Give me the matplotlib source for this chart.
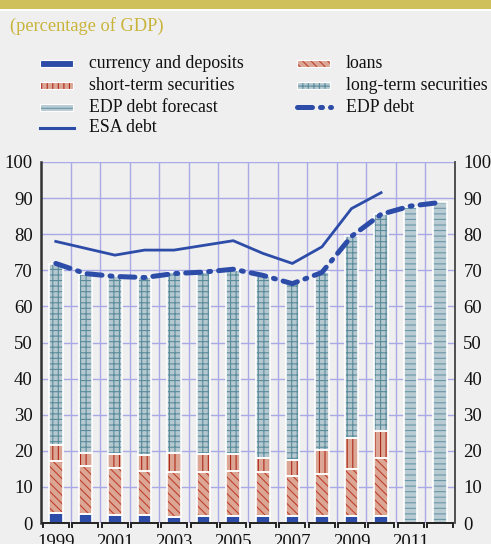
import numpy as np
import matplotlib
matplotlib.use("Agg")
import matplotlib.pyplot as plt
from matplotlib.patches import Rectangle
import matplotlib.transforms as mtransforms

# ---------------- data ----------------
years = [1999, 2000, 2001, 2002, 2003, 2004, 2005, 2006, 2007, 2008, 2009, 2010, 2011, 2012]
currency = [2.7, 2.4, 2.3, 2.3, 1.7, 2.0, 2.0, 2.0, 2.0, 2.0, 2.0, 2.0, np.nan, np.nan]
loans = [14.5, 13.3, 12.9, 12.1, 12.4, 12.2, 12.5, 12.1, 11.0, 11.5, 12.9, 15.9, np.nan, np.nan]
short_term = [4.4, 3.8, 3.9, 4.4, 5.3, 4.9, 4.6, 4.0, 4.5, 6.7, 8.7, 7.6, np.nan, np.nan]
long_term = [50.1, 49.6, 49.2, 49.3, 50.1, 50.4, 51.1, 50.2, 49.3, 49.2, 55.8, 60.2, np.nan, np.nan]
edp_forecast = [np.nan] * 12 + [87.6, 88.8]
edp_debt = [71.9, 69.1, 68.3, 68.0, 69.1, 69.5, 70.3, 68.6, 66.3, 69.4, 79.4, 85.5, 87.8, 88.8]
esa_debt = [78.0, 76.1, 74.2, 75.6, 75.6, 76.9, 78.2, 74.7, 71.9, 76.5, 87.1, 91.5, np.nan, np.nan]
year_labels = ["1999", "2001", "2003", "2005", "2007", "2009", "2011"]
yticks = [0, 10, 20, 30, 40, 50, 60, 70, 80, 90, 100]

# ---------------- style ----------------
BG = "#efefef"
GRID = "#a9a9e6"
BLUE = "#2c4ca8"
SALMON = "#dba694"
RED = "#c0402e"
STEEL = "#b5c8d0"
TEAL = "#5b8c9c"
OLIVE = "#c9b43a"
SERIF = ["Liberation Serif", "DejaVu Serif"]

plt.rcParams["font.family"] = SERIF
plt.rcParams["hatch.linewidth"] = 0.8

W, H = 491, 544
fig = plt.figure(figsize=(W / 100, H / 100), dpi=100, facecolor=BG)

# banner / title overlay
ov = fig.add_axes([0, 0, 1, 1], zorder=-5)
ov.set_xlim(0, W)
ov.set_ylim(H, 0)
ov.axis("off")
ov.add_patch(Rectangle((0, 0), W, 8.5, color="#cfc05c", lw=0))
ov.add_patch(Rectangle((0, 8.5), W, 2, color="white", lw=0))
ov.text(10, 26, "(percentage of GDP)", color=OLIVE, fontsize=13.2, va="center", ha="left")

x = np.arange(len(years))
bw = 0.46

ax = fig.add_axes([41 / W, (H - 523) / H, 414 / W, 361 / H])
ax.set_facecolor(BG)
ax.set_xlim(-0.5, len(years) - 0.5)
ax.set_ylim(0, 100)

# grid
for b in np.arange(-0.5, len(years), 1.0):
    ax.axvline(b, color=GRID, lw=1.0, zorder=0)
for yv in yticks[1:]:
    ax.axhline(yv, color=GRID, lw=1.0, zorder=0)

cur = np.array(currency, float)
lo = np.array(loans, float)
st = np.array(short_term, float)
lt = np.array(long_term, float)
fc = np.array(edp_forecast, float)


def hbar(vals, bottom, face, hatch, hcolor):
    ax.bar(x, vals, bw, bottom=bottom, color=face, hatch=hatch, edgecolor=hcolor,
           linewidth=0, zorder=2)
    ax.bar(x, vals, bw, bottom=bottom, fill=False, edgecolor="white", linewidth=1.2, zorder=3)


b0 = np.zeros(len(years))
hbar(cur, b0, BLUE, None, BLUE)
b1 = b0 + np.nan_to_num(cur)
hbar(lo, b1, SALMON, "\\\\\\\\", RED)
b2 = b1 + np.nan_to_num(lo)
hbar(st, b2, SALMON, "|||", "#b02a1c")
b3 = b2 + np.nan_to_num(st)
hbar(lt, b3, STEEL, "+++", TEAL)
hbar(fc, b0, "#b8cad2", "---", "#6a98a8")

ax.plot(x, esa_debt, color=BLUE, lw=2.0, zorder=5, solid_joinstyle="miter")
ax.plot(x, edp_debt, color=BLUE, lw=3.6, zorder=6, dashes=(3.0, 1.6, 0.4, 1.6),
        dash_capstyle="round")

# axes styling
for s in ["top", "bottom"]:
    ax.spines[s].set_visible(False)
ax.spines["left"].set_color("#333333")
ax.spines["left"].set_linewidth(1.8)
ax.spines["right"].set_color("#444444")
ax.spines["right"].set_linewidth(1.3)
ax.set_yticks(yticks)
ax.tick_params(axis="y", length=0, labelsize=13.5, pad=6, colors="#111111")
ax.set_xticks(x[::2])
ax.set_xticklabels(year_labels)
ax.tick_params(axis="x", length=0, labelsize=13.5, pad=8, colors="#111111")

ax2 = ax.twinx()
ax2.set_ylim(0, 100)
ax2.set_yticks(yticks)
ax2.tick_params(axis="y", length=0, labelsize=13.5, pad=6, colors="#111111")
for s in ["top", "bottom", "left", "right"]:
    ax2.spines[s].set_visible(False)

# bracket style x-axis segments
tr = mtransforms.blended_transform_factory(ax.transData, ax.transAxes)
for i in range(len(years)):
    l0, l1 = i - 0.5 + 0.06, i + 0.5 - 0.06
    ax.plot([l0, l0, l1, l1], [-0.012, 0, 0, -0.012], transform=tr, color="#222222",
            lw=1.4, clip_on=False, zorder=7, solid_joinstyle="miter")

# legend drawn manually
rows = [63, 85, 107, 128]
legend_items = [
    (40, rows[0], "currency and deposits", "patch", BLUE, None, BLUE),
    (40, rows[1], "short-term securities", "patch", SALMON, "|||", "#b02a1c"),
    (40, rows[2], "EDP debt forecast", "patch", "#b8cad2", "---", "#6a98a8"),
    (40, rows[3], "ESA debt", "line", BLUE, None, None),
    (297, rows[0], "loans", "patch", SALMON, "\\\\\\\\", RED),
    (297, rows[1], "long-term securities", "patch", STEEL, "+++", TEAL),
    (297, rows[2], "EDP debt", "dash", BLUE, None, None),
]
for hx, hy, label, kind, col, hatch, hcol in legend_items:
    if kind == "patch":
        ov.add_patch(Rectangle((hx, hy - 3.5), 33, 7, facecolor=col, hatch=hatch,
                               edgecolor=hcol, lw=0))
        ov.add_patch(Rectangle((hx, hy - 3.5), 33, 7, fill=False, edgecolor="white", lw=0.8))
    elif kind == "line":
        ov.plot([hx, hx + 34], [hy, hy], color=col, lw=2.2)
    else:
        ov.plot([hx, hx + 34], [hy, hy], color=col, lw=3.6, dashes=(3.0, 1.6, 0.4, 1.6),
                dash_capstyle="round")
    ov.text(hx + 49, hy, label, fontsize=12.8, va="center", ha="left", color="#111111")

fig.savefig("out.png", dpi=100, facecolor=BG)
